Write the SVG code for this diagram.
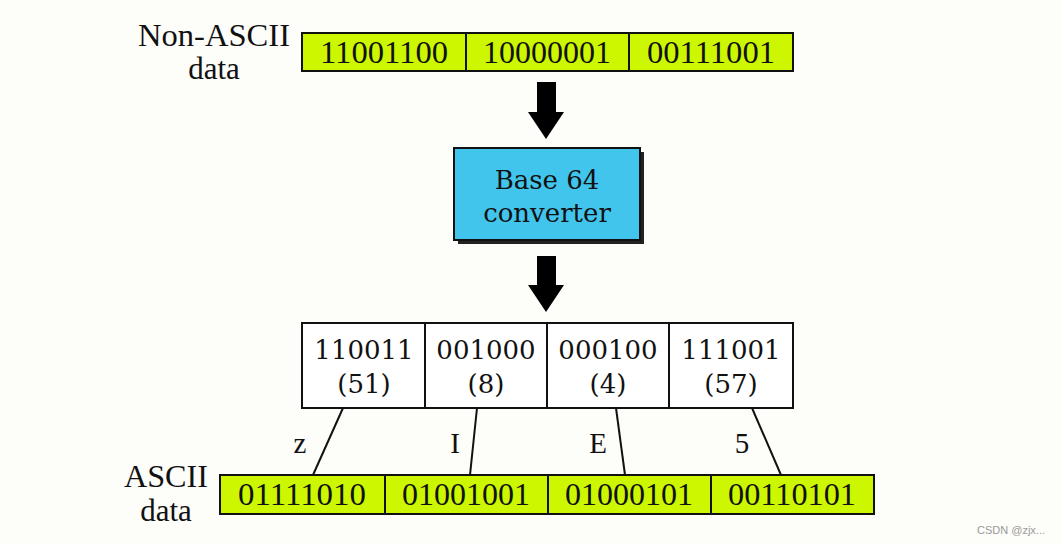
<svg xmlns="http://www.w3.org/2000/svg" width="1062" height="545" viewBox="0 0 1062 545">
<style>
.bar{fill:#ccf700;stroke:#111;stroke-width:2}
.box{fill:#fff;stroke:#111;stroke-width:2}
.t{font-family:"Liberation Serif",serif;fill:#111;text-anchor:middle}
.d{font-family:"DejaVu Serif",serif;fill:#111;text-anchor:middle;font-size:26px}
.ln{stroke:#111;stroke-width:2;fill:none}
</style>
<rect width="1062" height="545" fill="#fdfdfa"/>
<g id="nonascii">
<text class="t" x="214" y="46" font-size="31" textLength="152" lengthAdjust="spacingAndGlyphs">Non-ASCII</text>
<text class="t" x="214" y="79" font-size="31">data</text>
<rect class="bar" x="302" y="33" width="491" height="38"/>
<line class="ln" x1="466" y1="33" x2="466" y2="71"/>
<line class="ln" x1="629" y1="33" x2="629" y2="71"/>
<text class="t" x="384" y="63" font-size="31" textLength="128" lengthAdjust="spacingAndGlyphs">11001100</text>
<text class="t" x="547" y="63" font-size="31" textLength="128" lengthAdjust="spacingAndGlyphs">10000001</text>
<text class="t" x="711" y="63" font-size="31" textLength="128" lengthAdjust="spacingAndGlyphs">00111001</text>
</g>
<g id="converter">
<rect x="458" y="152" width="186" height="92" fill="#222"/>
<rect x="454" y="148" width="186" height="92" fill="#41c5ed" stroke="#111" stroke-width="2"/>
<text class="d" x="547" y="189">Base 64</text>
<text class="d" x="547" y="222">converter</text>
</g>
<g id="sixbit">
<rect class="box" x="302" y="323" width="491" height="85"/>
<line class="ln" x1="425" y1="323" x2="425" y2="408"/>
<line class="ln" x1="547" y1="323" x2="547" y2="408"/>
<line class="ln" x1="669" y1="323" x2="669" y2="408"/>
<text class="d" x="364" y="359">110011</text>
<text class="d" x="364" y="393">(51)</text>
<text class="d" x="486" y="359">001000</text>
<text class="d" x="486" y="393">(8)</text>
<text class="d" x="608" y="359">000100</text>
<text class="d" x="608" y="393">(4)</text>
<text class="d" x="731" y="359">111001</text>
<text class="d" x="731" y="393">(57)</text>
</g>
<g id="ascii">
<text class="t" x="166" y="487" font-size="31" textLength="84" lengthAdjust="spacingAndGlyphs">ASCII</text>
<text class="t" x="166" y="521" font-size="31">data</text>
<rect class="bar" x="220" y="475" width="654" height="39"/>
<line class="ln" x1="385" y1="475" x2="385" y2="514"/>
<line class="ln" x1="548" y1="475" x2="548" y2="514"/>
<line class="ln" x1="711" y1="475" x2="711" y2="514"/>
<text class="t" x="302" y="505" font-size="31" textLength="128" lengthAdjust="spacingAndGlyphs">01111010</text>
<text class="t" x="466" y="505" font-size="31" textLength="128" lengthAdjust="spacingAndGlyphs">01001001</text>
<text class="t" x="629" y="505" font-size="31" textLength="128" lengthAdjust="spacingAndGlyphs">01000101</text>
<text class="t" x="792" y="505" font-size="31" textLength="128" lengthAdjust="spacingAndGlyphs">00110101</text>
</g>
<g id="connectors">
<polygon points="537,82 556,82 556,112 564,112 546,139 528,112 537,112" fill="#000"/>
<polygon points="537,256 556,256 556,285 564,285 546,312 528,285 537,285" fill="#000"/>
<line class="ln" x1="343" y1="408" x2="313" y2="475"/>
<line class="ln" x1="477" y1="408" x2="470" y2="475"/>
<line class="ln" x1="616" y1="408" x2="625" y2="475"/>
<line class="ln" x1="752" y1="408" x2="781" y2="475"/>
<text class="t" x="300" y="453" font-size="29">z</text>
<text class="t" x="455" y="453" font-size="29">I</text>
<text class="t" x="598" y="453" font-size="29">E</text>
<text class="t" x="742" y="453" font-size="29">5</text>
</g>
<text x="1045" y="534" font-family="Liberation Sans,sans-serif" font-size="11" fill="#999" text-anchor="end">CSDN @zjx...</text>
</svg>
